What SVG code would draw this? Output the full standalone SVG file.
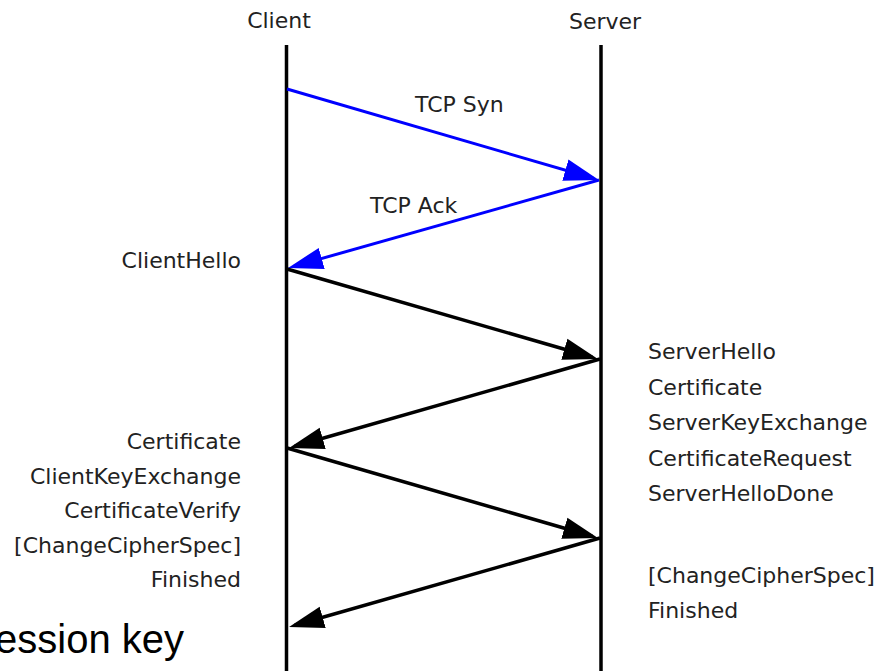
<svg xmlns="http://www.w3.org/2000/svg" width="893" height="671" viewBox="0 0 893 671">
<style>
.lbl{font-family:"DejaVu Sans","Liberation Sans",sans-serif;font-size:22px;fill:#222}
.end{text-anchor:end}
.mid{text-anchor:middle}
.life{stroke:#000;stroke-width:3.5;fill:none}
.blue{stroke:#0000ff;stroke-width:3;fill:none;marker-end:url(#ab)}
.black{stroke:#000;stroke-width:3.5;fill:none;marker-end:url(#ak)}
.big{font-family:"Liberation Sans",Arial,sans-serif;font-size:40px;fill:#000}
</style>
<defs>
<marker id="ab" markerUnits="userSpaceOnUse" markerWidth="36" markerHeight="24" refX="29" refY="11" orient="auto" viewBox="0 0 36 22">
<path d="M0,0 L35,11 L0,22 z" fill="#0000ff"/>
</marker>
<marker id="ak" markerUnits="userSpaceOnUse" markerWidth="36" markerHeight="24" refX="29" refY="11" orient="auto" viewBox="0 0 36 22">
<path d="M0,0 L35,11 L0,22 z" fill="#000"/>
</marker>
</defs>
<rect width="893" height="671" fill="#fff"/>
<g id="client">
<text class="lbl mid" x="279" y="28">Client</text>
<line class="life" x1="286.5" y1="45" x2="286.5" y2="671"/>
</g>
<g id="server">
<text class="lbl mid" x="605" y="29">Server</text>
<line class="life" x1="601" y1="45" x2="601" y2="671"/>
</g>
<g id="connectors">
<path class="blue" d="M287,89 L593.2,178.3"/>
<path class="blue" d="M599,180 L293.8,266.4"/>
<path class="black" d="M287,269 L592.2,357.3"/>
<path class="black" d="M600,359 L294.8,446.3"/>
<path class="black" d="M287,448 L592.2,536.3"/>
<path class="black" d="M600,538 L294.8,625.3"/>
</g>
<g id="connector-labels">
<text class="lbl" x="415" y="112">TCP Syn</text>
<text class="lbl" x="370" y="213">TCP Ack</text>
</g>
<g id="client-messages">
<text class="lbl end" x="241" y="268">ClientHello</text>
<text class="lbl end" x="241" y="449">Certificate</text>
<text class="lbl end" x="241" y="483.5">ClientKeyExchange</text>
<text class="lbl end" x="241" y="518">CertificateVerify</text>
<text class="lbl end" x="241" y="552.5">[ChangeCipherSpec]</text>
<text class="lbl end" x="241" y="587">Finished</text>
</g>
<g id="server-messages">
<text class="lbl" x="648" y="359">ServerHello</text>
<text class="lbl" x="648" y="394.5">Certificate</text>
<text class="lbl" x="648" y="430">ServerKeyExchange</text>
<text class="lbl" x="648" y="466">CertificateRequest</text>
<text class="lbl" x="648" y="501">ServerHelloDone</text>
<text class="lbl" x="648" y="583">[ChangeCipherSpec]</text>
<text class="lbl" x="648" y="618">Finished</text>
</g>
<g id="caption">
<text class="big end" x="184" y="653">Session key</text>
</g>
</svg>
